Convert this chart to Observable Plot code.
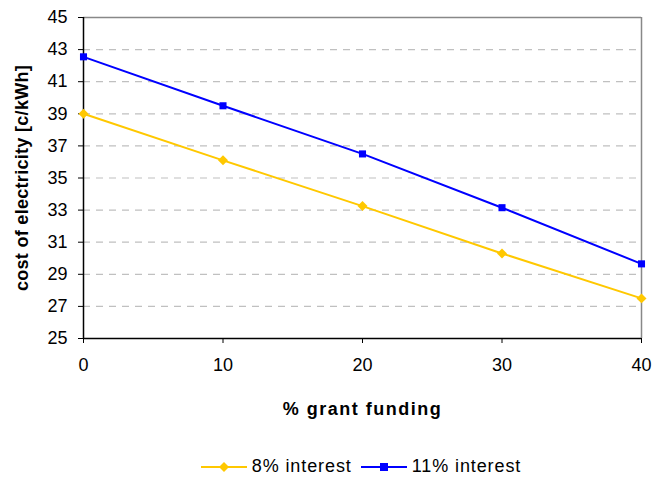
<!DOCTYPE html>
<html>
<head>
<meta charset="utf-8">
<script src="https://cdn.jsdelivr.net/npm/d3@7"></script>
<script src="https://cdn.jsdelivr.net/npm/@observablehq/plot@0.6"></script>
<style>
  body { margin: 0; background: #fff; font-family: "Liberation Sans", Arial, sans-serif; }
  #chart { width: 654px; }
  .legend { display: flex; justify-content: center; align-items: center; gap: 9px; font-size: 18px; letter-spacing: 0.9px; color: #000; margin-left: 68px; margin-top: 14px; }
  .legend .item { display: flex; align-items: center; gap: 5px; }
</style>
</head>
<body>
<div id="chart"></div>
<script>
const grantFunding = [0, 10, 20, 30, 40];
const interest8 = [39.0, 36.1, 33.25, 30.3, 27.5];
const interest11 = [42.55, 39.5, 36.5, 33.15, 29.65];
const seriesNames = ["8% interest", "11% interest"];
const seriesColors = ["#FFC800", "#0000FF"];
const seriesSymbols = ["diamond2", "square2"];
const yTicks = [25, 27, 29, 31, 33, 35, 37, 39, 41, 43, 45];
const xTicks = [0, 10, 20, 30, 40];

const rows = [];
[interest8, interest11].forEach((vals, s) => {
  vals.forEach((v, i) => rows.push({ x: grantFunding[i], y: v, series: seriesNames[s] }));
});

const font = "Liberation Sans, Arial, sans-serif";

const plot = Plot.plot({
  width: 654,
  height: 442,
  marginLeft: 83,
  marginRight: 13,
  marginTop: 17,
  marginBottom: 104,
  style: { fontFamily: font, fontSize: "18px", color: "#000", background: "#fff" },
  x: { domain: [0, 40] },
  y: { domain: [25, 45] },
  color: { domain: seriesNames, range: seriesColors },
  symbol: { domain: seriesNames, range: seriesSymbols },
  marks: [
    Plot.gridY(yTicks.slice(1, -1), { stroke: "#c0c0c0", strokeOpacity: 1, strokeDasharray: "7,6", strokeWidth: 1.2 }),
    Plot.ruleY([45], { stroke: "#888", strokeWidth: 1.5 }),
    Plot.ruleX([40], { stroke: "#888", strokeWidth: 1.5 }),
    Plot.axisY({ ticks: yTicks, tickSize: 5, tickPadding: 11, fontSize: 18, label: null }),
    Plot.axisX({ ticks: xTicks, tickSize: 5, tickPadding: 15, fontSize: 18,
      label: "% grant funding", labelAnchor: "center", labelArrow: "none", labelOffset: 76 }),
    Plot.text(["cost of electricity [c/kWh]"], { frameAnchor: "left", textAnchor: "middle", rotate: -90, dx: -61, fontWeight: "bold", fontSize: 18 }),
    Plot.ruleX([0], { stroke: "#000", strokeWidth: 1.5 }),
    Plot.ruleY([25], { stroke: "#000", strokeWidth: 1.5 }),
    Plot.line(rows, { x: "x", y: "y", z: "series", stroke: "series", strokeWidth: 2 }),
    Plot.dot(rows, { x: "x", y: "y", symbol: "series", fill: "series", stroke: "none", r: 4.5 })
  ]
});
document.getElementById("chart").appendChild(plot);
d3.select(plot).selectAll("g[aria-label='x-axis label'] text")
  .attr("font-weight", "bold").attr("letter-spacing", "1.5px");
d3.select(plot).selectAll("g[aria-label='text'] text").attr("letter-spacing", "0.3px");

const legend = document.createElement("div");
legend.className = "legend";
seriesNames.forEach((name, i) => {
  const item = document.createElement("div");
  item.className = "item";
  const sw = d3.create("svg").attr("width", 46).attr("height", 12);
  sw.append("line").attr("x1", 0).attr("x2", 46).attr("y1", 6).attr("y2", 6).attr("stroke", seriesColors[i]).attr("stroke-width", 2);
  if (i === 0) sw.append("path").attr("d", "M23,1L28,6L23,11L18,6Z").attr("fill", seriesColors[i]);
  else sw.append("rect").attr("x", 19).attr("y", 2).attr("width", 8).attr("height", 8).attr("fill", seriesColors[i]);
  item.appendChild(sw.node());
  const t = document.createElement("span");
  t.textContent = name;
  item.appendChild(t);
  legend.appendChild(item);
});
document.getElementById("chart").appendChild(legend);
</script>
</body>
</html>
